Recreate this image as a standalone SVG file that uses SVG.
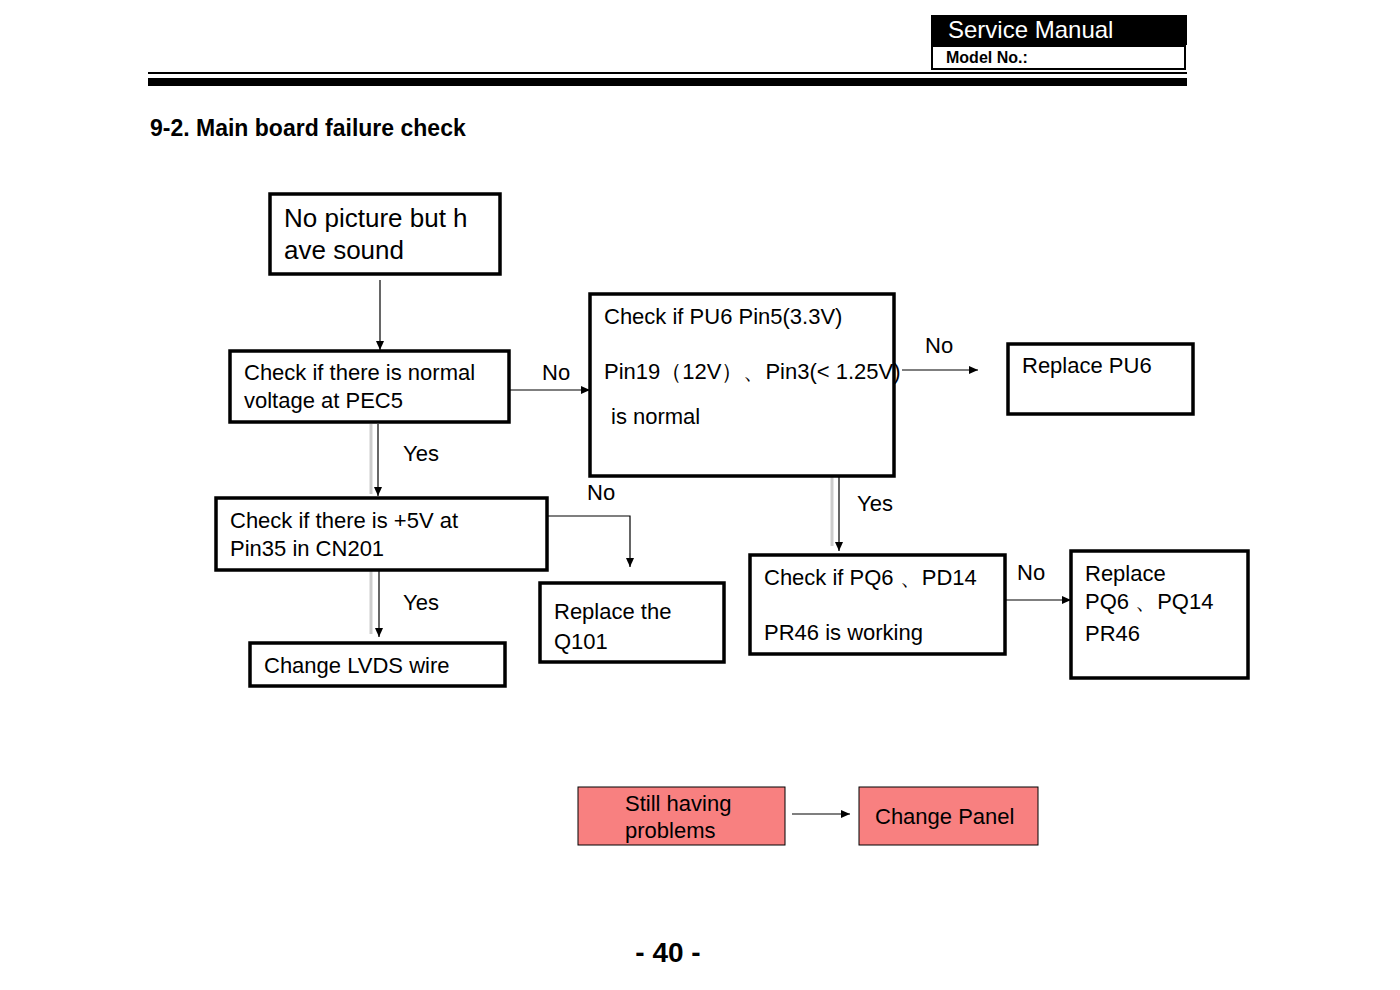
<svg xmlns="http://www.w3.org/2000/svg" width="1400" height="990" viewBox="0 0 1400 990">
<defs>
<marker id="a" markerWidth="10" markerHeight="10" refX="9" refY="5" orient="auto" markerUnits="userSpaceOnUse"><path d="M0,1 L9,5 L0,9 Z" fill="#000"/></marker>
<style>
text{font-family:"Liberation Sans",Arial,sans-serif;fill:#000}
.b{fill:#fff;stroke:#000;stroke-width:3.5}
.p{fill:#f88080;stroke:#000;stroke-width:1}
.t{font-size:22px}
.l{font-size:22px}
.c{stroke:#000;stroke-width:1.2;fill:none}
.g{stroke:#ccc;stroke-width:3;fill:none}
</style>
</defs>
<rect width="1400" height="990" fill="#fff"/>
<g id="header">
<rect x="931" y="15" width="256" height="30" fill="#000"/>
<text x="948" y="38" font-size="24" style="fill:#fff">Service Manual</text>
<rect x="932" y="46" width="253" height="23" fill="#fff" stroke="#000" stroke-width="2"/>
<text x="946" y="63" font-size="16" font-weight="bold">Model No.:</text>
<rect x="148" y="72" width="1039" height="2" fill="#000"/>
<rect x="148" y="78" width="1039" height="8" fill="#000"/>
<text x="150" y="136" font-size="23" font-weight="bold">9-2. Main board failure check</text>
<text x="668" y="962" font-size="28" font-weight="bold" text-anchor="middle">- 40 -</text>
</g>
<g id="connectors">
<path class="c" d="M380,280 V350" marker-end="url(#a)"/>
<path class="g" d="M371,424 V494"/><path class="c" d="M378,424 V496" marker-end="url(#a)"/>
<path class="g" d="M371,564 V634"/><path class="c" d="M379,564 V637" marker-end="url(#a)"/>
<path class="c" d="M510,390 H590" marker-end="url(#a)"/>
<path class="c" d="M548,516 H630 V567" marker-end="url(#a)"/>
<path class="c" d="M902,370 H978" marker-end="url(#a)"/>
<path class="g" d="M832,452 V546"/><path class="c" d="M839,454 V551" marker-end="url(#a)"/>
<path class="c" d="M1006,600 H1071" marker-end="url(#a)"/>
<path class="c" d="M792,814 H850" stroke-width="2.5" marker-end="url(#a)"/>
</g>
<g id="labels" class="l">
<text x="542" y="380">No</text>
<text x="403" y="461">Yes</text>
<text x="403" y="610">Yes</text>
<text x="587" y="500">No</text>
<text x="925" y="353">No</text>
<text x="857" y="511">Yes</text>
<text x="1017" y="580">No</text>
</g>
<g id="n1"><rect class="b" x="270" y="194" width="230" height="80"/>
<text x="284" y="227" font-size="26">No picture but h</text><text x="284" y="259" font-size="26">ave sound</text></g>
<g id="n2"><rect class="b" x="230" y="351" width="279" height="71"/>
<text class="t" x="244" y="380">Check if there is normal</text><text class="t" x="244" y="408">voltage at PEC5</text></g>
<g id="n3"><rect class="b" x="590" y="294" width="304" height="182"/>
<text class="t" x="604" y="324">Check if PU6 Pin5(3.3V)</text>
<text class="t" x="604" y="379">Pin19（12V）、Pin3(&lt; 1.25V)</text>
<text class="t" x="611" y="424">is normal</text></g>
<g id="n4"><rect class="b" x="1008" y="344" width="185" height="70"/>
<text class="t" x="1022" y="373">Replace PU6</text></g>
<g id="n5"><rect class="b" x="216" y="498" width="331" height="72"/>
<text class="t" x="230" y="528">Check if there is +5V at</text><text class="t" x="230" y="556">Pin35 in CN201</text></g>
<g id="n6"><rect class="b" x="540" y="583" width="184" height="79"/>
<text class="t" x="554" y="619">Replace    the</text><text class="t" x="554" y="649">Q101</text></g>
<g id="n7"><rect class="b" x="250" y="643" width="255" height="43"/>
<text class="t" x="264" y="673">Change LVDS wire</text></g>
<g id="n8"><rect class="b" x="750" y="555" width="255" height="99"/>
<text class="t" x="764" y="585">Check if PQ6   、PD14</text><text class="t" x="764" y="640">PR46 is working</text></g>
<g id="n9"><rect class="b" x="1071" y="551" width="177" height="127"/>
<text class="t" x="1085" y="581">Replace</text><text class="t" x="1085" y="609">PQ6  、PQ14</text><text class="t" x="1085" y="641">PR46</text></g>
<g id="n10"><rect class="p" x="578" y="787" width="207" height="58"/>
<text class="t" x="625" y="811">Still having</text><text class="t" x="625" y="838">problems</text></g>
<g id="n11"><rect class="p" x="859" y="787" width="179" height="58"/>
<text class="t" x="875" y="824">Change Panel</text></g>
</svg>
